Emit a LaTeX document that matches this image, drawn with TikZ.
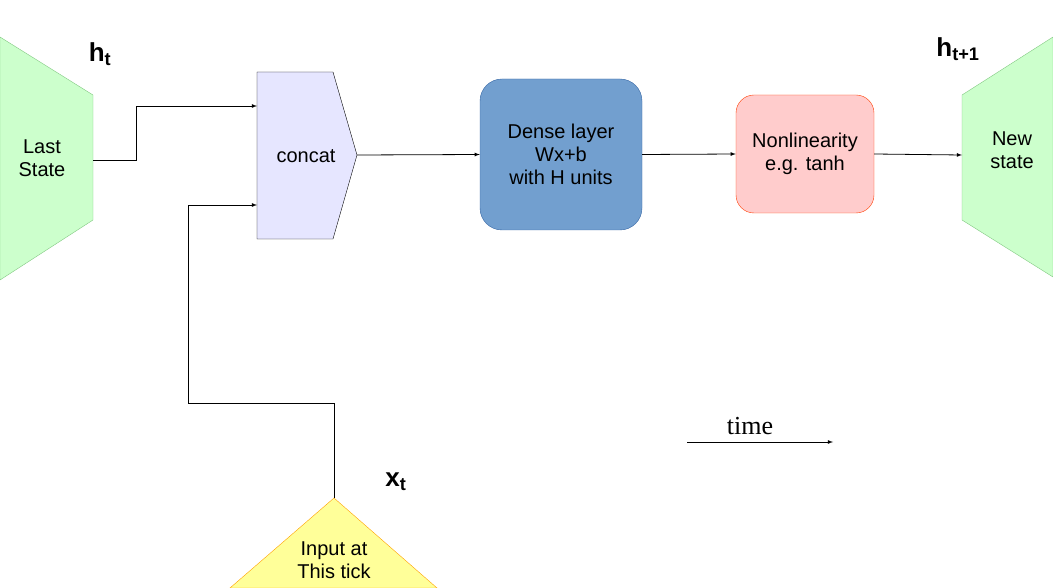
\documentclass[tikz,border=0pt]{standalone}
\usepackage{fontspec}
\setmainfont{Liberation Sans}
\newfontfamily\serifx{Liberation Serif}
\begin{document}
\begin{tikzpicture}[x=1pt,y=-1pt,
  lbl/.style={font=\fontsize{20}{23}\selectfont,align=center},
  sym/.style={font=\fontsize{26}{28}\selectfont\bfseries},
  con/.style={-latex,line width=0.8pt}]
\useasboundingbox (0,0) rectangle (1053,588);
\definecolor{gfill}{RGB}{204,255,204}\definecolor{gline}{RGB}{130,200,130}
\definecolor{cfill}{RGB}{230,230,255}
\definecolor{dfill}{RGB}{114,159,207}\definecolor{dline}{RGB}{52,101,164}
\definecolor{nfill}{RGB}{255,204,204}\definecolor{nline}{RGB}{255,60,0}
\definecolor{yfill}{RGB}{255,255,153}\definecolor{yline}{RGB}{255,160,0}
\draw[fill=gfill,draw=gline] (0,37) -- (93,95) -- (93,220) -- (0,280) -- cycle;
\node[lbl] (last) at (42,158) {Last\\State};
\node[sym] (ht) at (100,54) {h\textsubscript{t}};
\draw[fill=gfill,draw=gline] (1053,37) -- (962,95) -- (962,220) -- (1053,277) -- cycle;
\node[lbl] (new) at (1012,150) {New\\state};
\node[sym] (ht1) at (958,49) {h\textsubscript{t+1}};
\draw[fill=cfill,draw=black] (257,72) -- (333,72) -- (357,155) -- (333,239) -- (257,239) -- cycle;
\node[lbl] (concat) at (306,156) {concat};
\coordinate (cin1) at (257,106); \coordinate (cin2) at (257,205); \coordinate (cout) at (357,155);
\node[lbl,draw=dline,fill=dfill,rounded corners=22pt,minimum width=162pt,minimum height=151pt] (dense) at (561,154.5) {Dense layer\\Wx+b\\with H units};
\node[lbl,draw=nline,fill=nfill,rounded corners=18pt,minimum width=138pt,minimum height=118pt] (non) at (805,154) {Nonlinearity\\e.g. tanh};
\draw[fill=yfill,draw=yline] (334,498) -- (230,588) -- (437,588) -- cycle;
\coordinate (apex) at (334,498);
\node[lbl] (inp) at (334,560) {Input at\\This tick};
\node[sym] (xt) at (396,482) {x\textsubscript{t}};
\coordinate (lout) at (93,160); \coordinate (rin) at (962,155);
\draw[con] (lout) -- (136,160) -- (136,106) -- (cin1);
\draw[con] (apex) -- (334,403) -- (188,403) -- (188,205) -- (cin2);
\draw[con] (cout) -- (dense.west);
\draw[con] (dense.east) -- (non.west);
\draw[con] (non.east) -- (rin);
\node[font=\fontsize{26}{28}\selectfont\serifx] (time) at (750,426) {time};
\coordinate (t1) at (687,442); \coordinate (t2) at (833,442);
\draw[con] (t1) -- (t2);
\end{tikzpicture}
\end{document}
